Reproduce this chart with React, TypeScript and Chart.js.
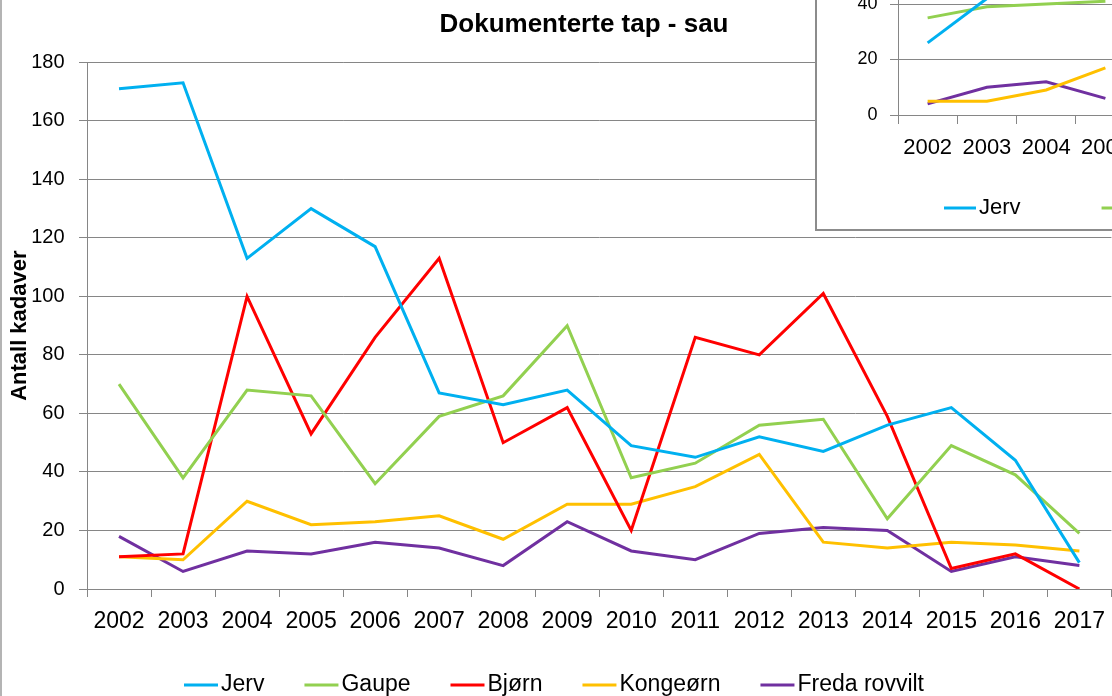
import React, { useEffect, useRef } from "react";
import { Chart, registerables } from "chart.js";
Chart.register(...registerables);

// ---------- main chart data ----------
const years = ["2002", "2003", "2004", "2005", "2006", "2007", "2008", "2009", "2010", "2011", "2012", "2013", "2014", "2015", "2016", "2017"];
const jerv = [171, 173, 113, 130, 117, 67, 63, 68, 49, 45, 52, 47, 56, 62, 44, 9];
const gaupe = [70, 38, 68, 66, 36, 59, 66, 90, 38, 43, 56, 58, 24, 49, 39, 19];
const bjorn = [11, 12, 100, 53, 86, 113, 50, 62, 20, 86, 80, 101, 59, 7, 12, 0];
const kongeorn = [11, 10, 30, 22, 23, 25, 17, 29, 29, 35, 46, 16, 14, 16, 15, 13];
const fredaRovvilt = [18, 6, 13, 12, 16, 14, 8, 23, 13, 10, 19, 21, 20, 6, 11, 8];
const seriesNames = ["Jerv", "Gaupe", "Bjørn", "Kongeørn", "Freda rovvilt"];
const seriesColors = ["#00B0F0", "#92D050", "#FF0000", "#FFC000", "#7030A0"];
const yMin = 0;
const yMax = 180;
const yStep = 20;
const chartTitle = "Dokumenterte tap - sau";
const yAxisTitle = "Antall kadaver";

// ---------- inset chart data (partly visible) ----------
const insetYears = ["2002", "2003", "2004", "2005"];
const insetJerv = [26, 42, null, null];
const insetGaupe = [35, 39, 40, 41];
const insetKongeorn = [5, 5, 9, 17];
const insetFreda = [4, 10, 12, 6];
const insetYMax = 60;
const insetYStep = 20;

const FONT = "'Liberation Sans', Arial, sans-serif";
const GRID = "#868686";

const legendPlugin = {
  id: "customLegend",
  afterDraw(chart: any, _args: any, opts: any) {
    const { ctx } = chart;
    ctx.save();
    ctx.font = `${opts.size}px ${FONT}`;
    ctx.textBaseline = "middle";
    ctx.textAlign = "left";
    let x = opts.startX;
    chart.data.datasets.forEach((ds: any) => {
      ctx.strokeStyle = ds.borderColor;
      ctx.lineWidth = 3;
      ctx.beginPath();
      ctx.moveTo(x, opts.y);
      ctx.lineTo(x + opts.lineLen, opts.y);
      ctx.stroke();
      x += opts.lineLen + opts.textGap;
      ctx.fillStyle = "#000";
      ctx.fillText(ds.label, x, opts.y);
      x += ctx.measureText(ds.label).width + opts.itemGap;
    });
    ctx.restore();
  },
};

const titlePlugin = {
  id: "customTitle",
  afterDraw(chart: any, _args: any, opts: any) {
    if (!opts || !opts.text) return;
    const { ctx } = chart;
    ctx.save();
    ctx.font = `bold ${opts.size}px ${FONT}`;
    ctx.textBaseline = "middle";
    ctx.textAlign = "center";
    ctx.fillStyle = "#000";
    ctx.fillText(opts.text, opts.x, opts.y);
    ctx.restore();
  },
};

function makeDatasets(names: string[], values: (number | null)[][]) {
  return values.map((v, i) => ({
    label: names[i],
    data: v,
    borderColor: seriesColors[seriesNames.indexOf(names[i])],
    backgroundColor: seriesColors[seriesNames.indexOf(names[i])],
    borderWidth: 3,
    pointRadius: 0,
    tension: 0,
    fill: false,
    spanGaps: false,
  }));
}

export default function App() {
  const mainRef = useRef<HTMLCanvasElement | null>(null);
  const insetRef = useRef<HTMLCanvasElement | null>(null);

  useEffect(() => {
    const main = new Chart(mainRef.current as HTMLCanvasElement, {
      type: "line",
      data: {
        labels: years,
        datasets: makeDatasets(seriesNames, [jerv, gaupe, bjorn, kongeorn, fredaRovvilt]) as any,
      },
      plugins: [legendPlugin, titlePlugin],
      options: {
        animation: false,
        responsive: false,
        maintainAspectRatio: false,
        layout: { padding: { left: 0, right: 1, top: 62.3, bottom: 0 } },
        plugins: {
          legend: { display: false },
          tooltip: { enabled: false },
          title: { display: false },
          customTitle: { text: chartTitle, x: 584, y: 25, size: 26 },
          customLegend: { y: 685, startX: 184, lineLen: 34, textGap: 3, itemGap: 40, size: 23 },
        } as any,
        scales: {
          x: {
            type: "category",
            offset: true,
            grid: { display: true, offset: true, drawOnChartArea: false, drawTicks: true, tickLength: 8, color: GRID, lineWidth: 1 },
            border: { display: true, color: GRID, width: 1 },
            ticks: { color: "#000", font: { family: FONT, size: 23 }, padding: 11, maxRotation: 0, autoSkip: false },
            afterFit: (s: any) => { s.height = 107; },
          },
          y: {
            min: yMin,
            max: yMax,
            ticks: { stepSize: yStep, color: "#000", font: { family: FONT, size: 20 }, padding: 14.5 },
            grid: { color: GRID, lineWidth: 1, tickLength: 8, drawTicks: true },
            border: { display: true, color: GRID, width: 1 },
            title: {
              display: true,
              text: yAxisTitle,
              color: "#000",
              font: { family: FONT, size: 22, weight: "bold", lineHeight: 1.2 },
              padding: { top: 7, bottom: 0 },
            },
            afterFit: (s: any) => { s.width = 87; },
          },
        },
      } as any,
    });

    const inset = new Chart(insetRef.current as HTMLCanvasElement, {
      type: "line",
      data: {
        labels: insetYears,
        datasets: makeDatasets(["Jerv", "Gaupe", "Kongeørn", "Freda rovvilt"], [insetJerv, insetGaupe, insetKongeorn, insetFreda]) as any,
      },
      plugins: [legendPlugin],
      options: {
        animation: false,
        responsive: false,
        maintainAspectRatio: false,
        layout: { padding: { left: 0, right: 1, top: 48.5, bottom: 0 } },
        plugins: {
          legend: { display: false },
          tooltip: { enabled: false },
          title: { display: false },
          customLegend: { y: 308, startX: 127, lineLen: 32, textGap: 3, itemGap: 81, size: 22 },
        } as any,
        scales: {
          x: {
            type: "category",
            offset: true,
            grid: { display: true, offset: true, drawOnChartArea: false, drawTicks: true, tickLength: 9, color: GRID, lineWidth: 1 },
            border: { display: true, color: GRID, width: 1 },
            ticks: { color: "#000", font: { family: FONT, size: 22 }, padding: 11, maxRotation: 0, autoSkip: false },
            afterFit: (s: any) => { s.height = 114; },
          },
          y: {
            min: 0,
            max: insetYMax,
            ticks: { stepSize: insetYStep, color: "#000", font: { family: FONT, size: 18 }, padding: 12.5 },
            grid: { color: GRID, lineWidth: 1, tickLength: 8, drawTicks: true },
            border: { display: true, color: GRID, width: 1 },
            afterFit: (s: any) => { s.width = 81; },
          },
        },
      } as any,
    });

    return () => {
      main.destroy();
      inset.destroy();
    };
  }, []);

  return (
    <div style={{ position: "fixed", left: 0, top: 0, width: 1112, height: 696, overflow: "hidden", background: "#fff" }}>
      <canvas ref={mainRef} width={1116} height={696} style={{ position: "absolute", left: 0, top: 0, width: 1116, height: 696 }} />
      <div style={{ position: "absolute", left: 0, top: 0, width: 2, height: 696, background: "#b4b4b4" }} />
      <div style={{ position: "absolute", left: 815, top: -12, width: 400, height: 243, boxSizing: "border-box", border: "2px solid #8c8c8c", background: "#fff" }} />
      <canvas ref={insetRef} width={324} height={329} style={{ position: "absolute", left: 817, top: -100, width: 324, height: 329 }} />
    </div>
  );
}
